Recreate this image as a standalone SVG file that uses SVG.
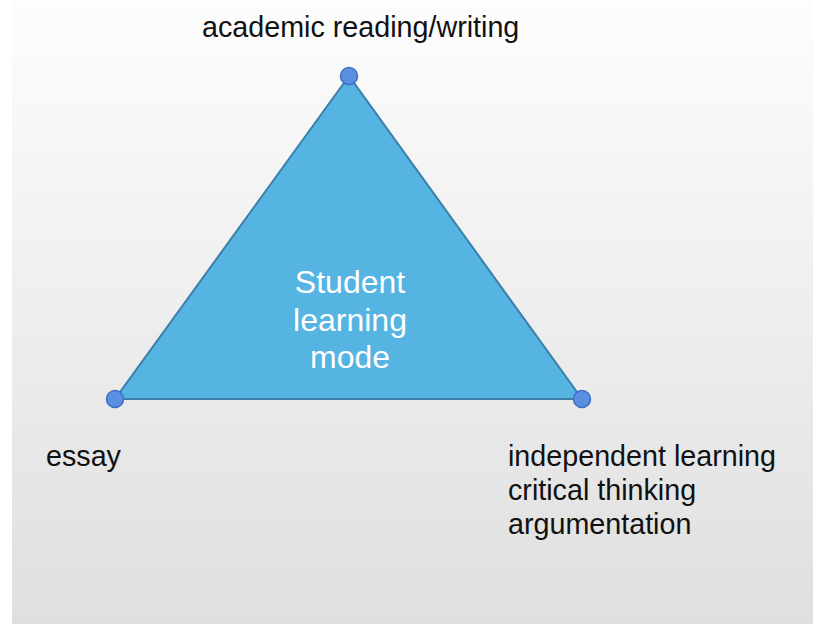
<svg xmlns="http://www.w3.org/2000/svg" width="813" height="624" viewBox="0 0 813 624">
  <defs>
    <linearGradient id="bg" x1="0" y1="0" x2="0" y2="1">
      <stop offset="0" stop-color="#fdfdfd"/>
      <stop offset="1" stop-color="#dfdfdf"/>
    </linearGradient>
    <style>
      .lbl { font-family: "Liberation Sans", Arial, sans-serif; font-size: 28.7px; fill: #111111; }
      .center { font-family: "Liberation Sans", Arial, sans-serif; font-size: 32px; fill: #ffffff; text-anchor: middle; }
      .dot { fill: #5b8fe2; stroke: #3e6ec4; stroke-width: 1.5; }
    </style>
  </defs>
  <rect x="0" y="0" width="813" height="624" fill="#ffffff"/>
  <rect x="12" y="0" width="801" height="624" fill="url(#bg)"/>

  <g id="triangle">
    <polygon points="349,76 115,399 582,399" fill="#56b4e3" stroke="#3b7fa8" stroke-width="2" stroke-linejoin="miter"/>
    <text class="center" x="350" y="293">Student</text>
    <text class="center" x="350" y="331">learning</text>
    <text class="center" x="350" y="368">mode</text>
  </g>

  <g id="node-top">
    <circle class="dot" cx="349" cy="76" r="8.5"/>
    <text class="lbl" x="202" y="37">academic reading/writing</text>
  </g>
  <g id="node-left">
    <circle class="dot" cx="115" cy="399" r="8.5"/>
    <text class="lbl" x="46" y="466">essay</text>
  </g>
  <g id="node-right">
    <circle class="dot" cx="582" cy="399" r="8.5"/>
    <text class="lbl" x="508" y="466">independent learning</text>
    <text class="lbl" x="508" y="500">critical thinking</text>
    <text class="lbl" x="508" y="534">argumentation</text>
  </g>
</svg>
